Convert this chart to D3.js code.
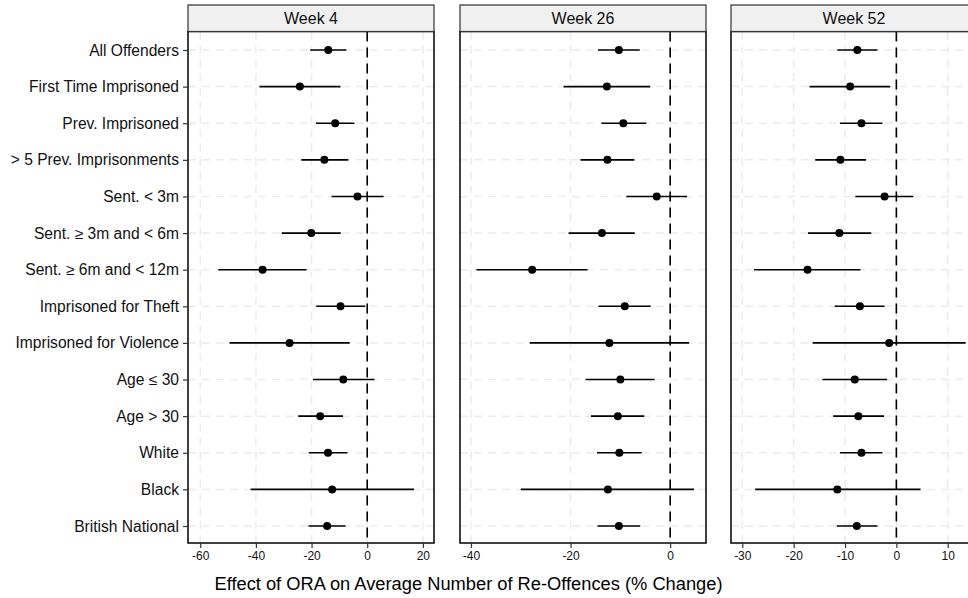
<!DOCTYPE html>
<html>
<head>
<meta charset="utf-8">
<script src="https://cdn.jsdelivr.net/npm/d3@7"></script>
<style>
  body { margin: 0; background: #fff; }
  svg { display: block; font-family: "Liberation Sans", Arial, sans-serif; }
</style>
</head>
<body>
<div id="chart"></div>
<script>
// categories, top to bottom
const categories = [
  "All Offenders", "First Time Imprisoned", "Prev. Imprisoned", "> 5 Prev. Imprisonments",
  "Sent. < 3m", "Sent. \u2265 3m and < 6m", "Sent. \u2265 6m and < 12m", "Imprisoned for Theft",
  "Imprisoned for Violence", "Age \u2264 30", "Age > 30", "White", "Black", "British National"
];
const weeks = ["Week 4", "Week 26", "Week 52"];

// point estimates and confidence intervals (% change)
const week4Est = [-14.0, -24.2, -11.5, -15.4, -3.5, -20.1, -37.6, -9.6, -27.9, -8.6, -16.9, -14.1, -12.6, -14.4];
const week4Lo  = [-20.5, -38.7, -18.4, -23.7, -12.8, -30.7, -53.5, -18.3, -49.5, -19.5, -24.8, -21.0, -41.9, -21.1];
const week4Hi  = [-7.5, -9.6, -4.6, -6.8, 5.9, -9.5, -21.8, -0.7, -6.3, 2.6, -8.7, -7.1, 16.8, -7.8];

const week26Est = [-10.3, -12.7, -9.4, -12.6, -2.7, -13.7, -27.7, -9.1, -12.2, -10.0, -10.5, -10.2, -12.5, -10.3];
const week26Lo  = [-14.5, -21.4, -13.8, -18.0, -8.8, -20.4, -38.9, -14.4, -28.2, -17.0, -15.9, -14.7, -30.0, -14.6];
const week26Hi  = [-6.1, -4.0, -4.8, -7.2, 3.4, -7.1, -16.6, -3.9, 3.8, -3.1, -5.2, -5.7, 4.8, -6.0];

const week52Est = [-7.6, -9.0, -6.8, -10.9, -2.3, -11.1, -17.3, -7.1, -1.4, -8.1, -7.4, -6.8, -11.5, -7.7];
const week52Lo  = [-11.5, -16.9, -11.0, -15.8, -8.0, -17.2, -27.7, -12.0, -16.3, -14.4, -12.3, -11.0, -27.5, -11.6];
const week52Hi  = [-3.7, -1.2, -2.7, -5.9, 3.3, -4.9, -7.0, -2.3, 13.5, -1.8, -2.4, -2.7, 4.7, -3.7];

// x tick values per panel
const week4Ticks = [-60, -40, -20, 0, 20];
const week26Ticks = [-40, -20, 0];
const week52Ticks = [-30, -20, -10, 0, 10];

const panels = [
  {name: weeks[0], est: week4Est, lo: week4Lo, hi: week4Hi, ticks: week4Ticks, domain: [-64.4, 24.0], left: 188},
  {name: weeks[1], est: week26Est, lo: week26Lo, hi: week26Hi, ticks: week26Ticks, domain: [-42.2, 7.2], left: 460},
  {name: weeks[2], est: week52Est, lo: week52Lo, hi: week52Hi, ticks: week52Ticks, domain: [-32.2, 15.7], left: 731}
];

const width = 968, height = 598;
const panelW = 246;
const stripTop = 5, panelTop = 31.5, panelBottom = 543;

const svg = d3.select("#chart").append("svg")
  .attr("width", width)
  .attr("height", height);

const y = d3.scalePoint()
  .domain(categories)
  .range([50, 526]);

panels.forEach((p, i) => {
  const rows = categories.map((c, j) => ({cat: c, est: p.est[j], lo: p.lo[j], hi: p.hi[j]}));
  const x = d3.scaleLinear().domain(p.domain).range([p.left, p.left + panelW]);

  const g = svg.append("g");

  // grid
  g.selectAll(".vgrid")
    .data(p.ticks)
    .enter().append("line")
    .attr("x1", d => x(d)).attr("x2", d => x(d))
    .attr("y1", panelTop).attr("y2", panelBottom)
    .attr("stroke", "#ebebeb").attr("stroke-width", 1.5)
    .attr("stroke-dasharray", "8,6");
  g.selectAll(".hgrid")
    .data(categories)
    .enter().append("line")
    .attr("x1", p.left).attr("x2", p.left + panelW)
    .attr("y1", d => y(d)).attr("y2", d => y(d))
    .attr("stroke", "#ebebeb").attr("stroke-width", 1.5)
    .attr("stroke-dasharray", "8,6");

  // zero reference
  g.append("line")
    .attr("x1", x(0)).attr("x2", x(0))
    .attr("y1", panelTop).attr("y2", panelBottom)
    .attr("stroke", "#000").attr("stroke-width", 1.6)
    .attr("stroke-dasharray", "10,6");

  // intervals
  g.selectAll(".ci")
    .data(rows)
    .enter().append("line")
    .attr("x1", d => x(d.lo)).attr("x2", d => x(d.hi))
    .attr("y1", d => y(d.cat)).attr("y2", d => y(d.cat))
    .attr("stroke", "#000").attr("stroke-width", 1.6);

  g.selectAll(".pt")
    .data(rows)
    .enter().append("circle")
    .attr("cx", d => x(d.est)).attr("cy", d => y(d.cat))
    .attr("r", 4)
    .attr("fill", "#000");

  // panel border
  g.append("rect")
    .attr("x", p.left).attr("y", panelTop)
    .attr("width", panelW).attr("height", panelBottom - panelTop)
    .attr("fill", "none").attr("stroke", "#000").attr("stroke-width", 1.5);

  // strip
  g.append("rect")
    .attr("x", p.left).attr("y", stripTop)
    .attr("width", panelW).attr("height", panelTop - stripTop)
    .attr("fill", "#f0f0f0").attr("stroke", "#333").attr("stroke-width", 1.2);
  g.append("text")
    .attr("x", p.left + panelW / 2).attr("y", (stripTop + panelTop) / 2)
    .attr("text-anchor", "middle").attr("dominant-baseline", "central")
    .attr("font-size", 16).attr("fill", "#111")
    .text(p.name);

  // x axis
  const ax = g.append("g")
    .attr("transform", "translate(0," + panelBottom + ")")
    .call(d3.axisBottom(x).tickValues(p.ticks).tickSize(5).tickPadding(3).tickFormat(d3.format("d")));
  ax.select(".domain").remove();
  ax.selectAll("line").attr("stroke", "#333").attr("stroke-width", 1.2);
  ax.selectAll("text").attr("font-size", 12).attr("fill", "#111")
    .attr("font-family", "Liberation Sans, Arial, sans-serif")
    .text(d => d < 0 ? "-" + Math.abs(d) : d);

  // y axis on first panel only
  if (i === 0) {
    const ay = g.append("g")
      .attr("transform", "translate(" + p.left + ",0)")
      .call(d3.axisLeft(y).tickSize(5).tickPadding(4));
    ay.select(".domain").remove();
    ay.selectAll("line").attr("stroke", "#333").attr("stroke-width", 1.2);
    ay.selectAll("text").attr("font-size", 15.6).attr("fill", "#111")
      .attr("font-family", "Liberation Sans, Arial, sans-serif");
  }
});

svg.append("text")
  .attr("x", 468.5).attr("y", 583)
  .attr("text-anchor", "middle").attr("dominant-baseline", "central")
  .attr("font-size", 18.3).attr("fill", "#000")
  .text("Effect of ORA on Average Number of Re-Offences (% Change)");
</script>
</body>
</html>
